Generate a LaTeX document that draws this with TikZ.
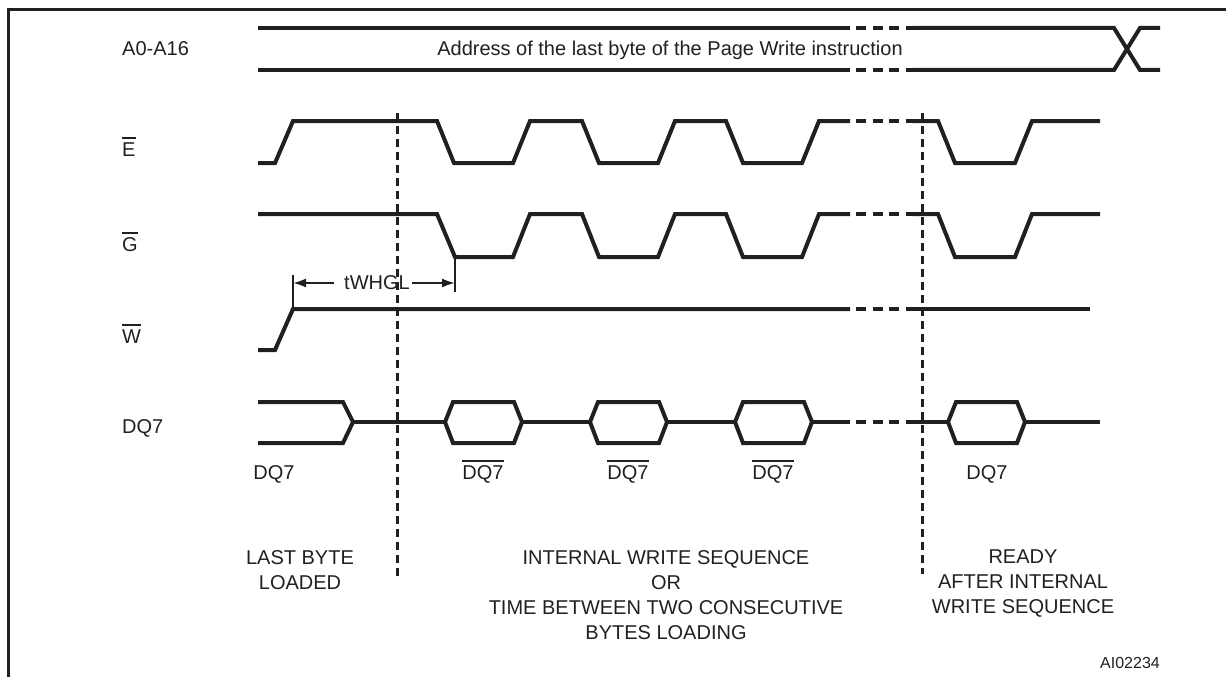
\documentclass[tikz,border=0pt]{standalone}
\usepackage{fontspec}
\setmainfont{Liberation Sans}
\usetikzlibrary{arrows.meta}
\definecolor{ink}{HTML}{231F20}
\newcommand\myov[1]{\setbox0\hbox{#1}\vbox{\hrule height 1.6pt\kern 3.5pt\box0}}
\tikzset{
  sig/.style={line width=4pt, draw=ink},
  gapdash/.style={line width=4pt, draw=ink, dash pattern=on 10pt off 6.5pt},
  vdash/.style={line width=3pt, draw=ink, dash pattern=on 8pt off 5pt},
  framestyle/.style={line width=3pt, draw=ink},
  tick/.style={line width=2.5pt, draw=ink},
  dimarrow/.style={line width=2pt, draw=ink, -{Latex[length=13pt,width=9pt]}},
  lbl/.style={font=\fontsize{20}{25}\selectfont, text=ink, inner sep=0pt},
  small/.style={font=\fontsize{16}{19}\selectfont, text=ink, inner sep=0pt}
}
\begin{document}
\begin{tikzpicture}[x=1pt,y=-1pt]
\useasboundingbox (0,0) rectangle (1226,677);
\clip (0,0) rectangle (1226,677);
% frame
\draw[framestyle] (8,690) -- (8,10) -- (1240,10);

% signal names
\node[lbl, anchor=base west] (nA) at (122,56) {A0-A16};
\node[lbl, anchor=base west] (nE) at (122,156) {\myov{E}};
\node[lbl, anchor=base west] (nG) at (122,251) {\myov{G}};
\node[lbl, anchor=base west] (nW) at (122,343) {\myov{W}};
\node[lbl, anchor=base west] (nD) at (122,433) {DQ7};

% address bus
\draw[sig] (258,28) -- (850,28);
\draw[sig] (258,70) -- (850,70);
\draw[gapdash] (856,28) -- (913,28);
\draw[gapdash] (856,70) -- (913,70);
\draw[sig] (913,28) -- (1114,28) -- (1140,70) -- (1160,70);
\draw[sig] (913,70) -- (1114,70) -- (1140,28) -- (1160,28);
\node[lbl, anchor=base] (addr) at (670,56) {Address of the last byte of the Page Write instruction};

% E
\draw[sig] (258,163) -- (275,163) -- (293,121) -- (437,121) -- (454,163) -- (513,163) -- (530,121) -- (582,121) -- (599,163) -- (658,163) -- (675,121) -- (726,121) -- (743,163) -- (802,163) -- (819,121) -- (850,121);
\draw[gapdash] (856,121) -- (913,121);
\draw[sig] (913,121) -- (938,121) -- (955,163) -- (1015,163) -- (1032,121) -- (1100,121);

% G
\draw[sig] (258,214) -- (437,214) -- (455,257) -- (513,257) -- (530,214) -- (582,214) -- (599,257) -- (658,257) -- (675,214) -- (726,214) -- (743,257) -- (802,257) -- (819,214) -- (850,214);
\draw[gapdash] (856,214) -- (913,214);
\draw[sig] (913,214) -- (938,214) -- (955,257) -- (1015,257) -- (1032,214) -- (1100,214);

% W
\draw[sig] (258,350) -- (275,350) -- (293,309) -- (850,309);
\draw[gapdash] (856,309) -- (913,309);
\draw[sig] (913,309) -- (1090,309);

% tWHGL
\coordinate (wl) at (293,283);
\coordinate (gr) at (455,283);
\draw[tick] (293,275) -- (293,309);
\draw[tick] (455,257) -- (455,292);
\node[lbl] (tw) at (377,283) {tWHGL};
\draw[dimarrow] ([xshift=-10pt]tw.west) -- (wl);
\draw[dimarrow] ([xshift=2pt]tw.east) -- (gr);

% DQ7
\draw[sig] (258,402) -- (343,402) -- (353,422) -- (343,443) -- (258,443);
\foreach \a in {445,590,735,948}
  \draw[sig] (\a,422) -- ++(8,-20) -- ++(61,0) -- ++(8,20) -- ++(-8,21) -- ++(-61,0) -- cycle;
\draw[sig] (353,422) -- (445,422);
\draw[sig] (522,422) -- (590,422);
\draw[sig] (667,422) -- (735,422);
\draw[sig] (812,422) -- (850,422);
\draw[gapdash] (856,422) -- (913,422);
\draw[sig] (913,422) -- (948,422);
\draw[sig] (1025,422) -- (1100,422);

\node[lbl, anchor=base] (d0) at (274,479) {DQ7};
\node[lbl, anchor=base] (d1) at (483,479) {\myov{DQ7}};
\node[lbl, anchor=base] (d2) at (628,479) {\myov{DQ7}};
\node[lbl, anchor=base] (d3) at (773,479) {\myov{DQ7}};
\node[lbl, anchor=base] (d4) at (987,479) {DQ7};

% phase separators
\draw[vdash] (397,113) -- (397,576);
\draw[vdash] (922,113) -- (922,574);

% phase captions
\node[lbl, anchor=north, align=center] (c1) at (300,550) {LAST BYTE\\LOADED};
\node[lbl, anchor=north, align=center] (c2) at (666,550) {INTERNAL WRITE SEQUENCE\\OR\\TIME BETWEEN TWO CONSECUTIVE\\BYTES LOADING};
\node[lbl, anchor=north, align=center] (c3) at (1023,550) {READY\\AFTER INTERNAL\\WRITE SEQUENCE};

\node[small, anchor=base] (ref) at (1130,668) {AI02234};
\end{tikzpicture}
\end{document}
